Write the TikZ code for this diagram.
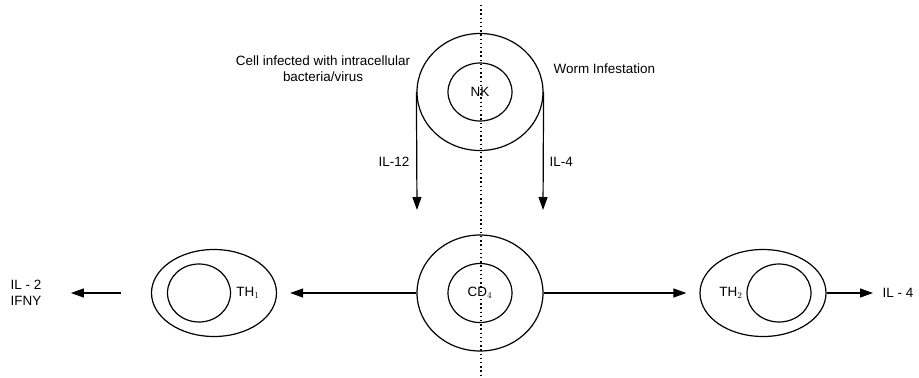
\documentclass[tikz,border=0pt]{standalone}
\usepackage{fontspec}
\setmainfont{Liberation Sans}
\usetikzlibrary{arrows.meta,shapes.geometric}

\begin{document}
\begin{tikzpicture}[x=1bp,y=-1bp,line width=1.2bp,
    font=\fontsize{13.5}{16}\selectfont,
    cell/.style={ellipse,draw,inner sep=0pt},
    arr/.style={-{Triangle[length=13bp,width=9bp]}}]
        \useasboundingbox (0,0) rectangle (919,377);
        \draw[line width=1.3bp,dash pattern=on 1.3bp off 2.9bp] (481,5) -- (481,377);
        % NK cell
        \node[cell,minimum width=126bp,minimum height=117bp](nk)at(480,92){};
        \node[cell,minimum width=64bp,minimum height=58bp](nkin)at(480,92){NK};
        \node[align=center,inner sep=0pt](infect)at(323,69){Cell infected with intracellular\\bacteria/virus};
        \node[anchor=west,inner sep=0pt](worm)at(553,69){Worm Infestation};
        \coordinate (il12end) at (417,210);
        \coordinate (il4end) at (543,210);
        \draw[arr](nk.west)--(il12end);
        \draw[arr](nk.east)--(il4end);
        \node[anchor=east,inner sep=0pt](il12)at(410,162){IL-12};
        \node[anchor=west,inner sep=0pt](il4)at(549,162){IL-4};
        % CD4 cell
        \node[cell,minimum width=126bp,minimum height=116bp](cd)at(480,293){};
        \node[cell,minimum width=64bp,minimum height=59bp](cdin)at(480,293){CD$_4$};
        % TH1 cell
        \node[cell,minimum width=125bp,minimum height=87bp](thone)at(214,293){};
        \node[cell,minimum width=63bp,minimum height=58bp](thonein)at(199,293){};
        \node[inner sep=0pt](thonelab)at(248,293){TH$_1$};
        % TH2 cell
        \node[cell,minimum width=126bp,minimum height=87bp](thtwo)at(763,293){};
        \node[cell,minimum width=64bp,minimum height=58bp](thtwoin)at(779,293){};
        \node[inner sep=0pt](thtwolab)at(731,293){TH$_2$};
        % outputs
        \node[align=left,anchor=west,inner sep=0pt](iltwo)at(10,293){IL - 2\\IFNY};
        \node[anchor=west,inner sep=0pt](ilfour)at(882,293){IL - 4};
        \coordinate (leftstart) at (121,293);
        \draw[arr](cd.west)--(thone.east)[shorten >=13bp];
        \draw[arr](cd.east)--(thtwo.west)[shorten >=13bp];
        \draw[arr](thtwo.east)--(ilfour.west)[shorten >=9bp];
        \draw[arr](leftstart)--(iltwo.east)[shorten >=29bp];
\end{tikzpicture}
\end{document}
